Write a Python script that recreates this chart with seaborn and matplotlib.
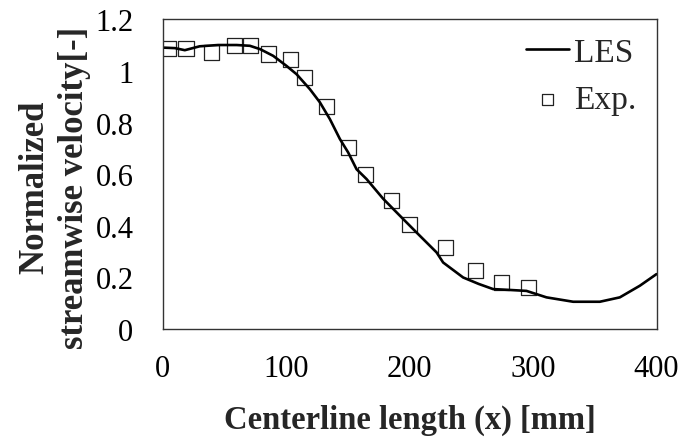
import matplotlib
matplotlib.use("Agg")
import matplotlib.pyplot as plt
import seaborn as sns
import pandas as pd
from matplotlib.ticker import FuncFormatter, MultipleLocator

les_x = [0, 10, 18, 30, 45, 60, 70.7, 79, 89.6, 100.4, 108.5, 119.3, 127.4, 135.5, 143.6,
         150.3, 157.1, 165.2, 178.6, 192.2, 205.7, 221.9, 227.2, 243.4, 256, 267.7, 280,
         294.7, 310.9, 332.5, 354.1, 370.3, 386.5, 400]
les_y = [1.09, 1.088, 1.08, 1.095, 1.10, 1.10, 1.097, 1.084, 1.058, 1.019, 0.987, 0.929,
         0.878, 0.813, 0.736, 0.684, 0.619, 0.581, 0.505, 0.439, 0.374, 0.297, 0.258,
         0.200, 0.175, 0.155, 0.152, 0.148, 0.123, 0.106, 0.106, 0.123, 0.168, 0.213]

exp_x = [4.5, 18.9, 39.7, 58.5, 71.5, 86, 103.6, 115.2, 132.8, 150.3, 164.6, 185.4,
         200.2, 229, 253.7, 274.5, 296.6]
exp_y = [1.087, 1.087, 1.071, 1.097, 1.097, 1.065, 1.043, 0.974, 0.861, 0.703, 0.600,
         0.499, 0.406, 0.316, 0.228, 0.181, 0.161]

les = pd.DataFrame({"x": les_x, "y": les_y})
exp = pd.DataFrame({"x": exp_x, "y": exp_y})

sns.set_style("white")
plt.rcParams["font.family"] = ["Liberation Serif", "DejaVu Serif"]

fig = plt.figure(figsize=(6.86, 4.39), dpi=100)
ax = fig.add_axes([0.237, 0.248, 0.720, 0.706])

sns.lineplot(data=les, x="x", y="y", ax=ax, color="black", linewidth=1.9, label="LES")
sns.scatterplot(data=exp, x="x", y="y", ax=ax, marker="s", s=120, facecolor="none",
                edgecolor="#222222", linewidth=0.9, label="Exp.")

ax.set_xlim(0, 400)
ax.set_ylim(0, 1.2)
ax.xaxis.set_major_locator(MultipleLocator(100))
ax.yaxis.set_major_locator(MultipleLocator(0.2))
ax.yaxis.set_major_formatter(FuncFormatter(lambda v, p: f"{v:g}"))
ax.tick_params(direction="in", length=5, width=1, colors="#333333",
               labelsize=22, labelcolor="black")
ax.tick_params(axis="x", pad=18)
ax.tick_params(axis="y", pad=21)
for s in ax.spines.values():
    s.set_color("#333333")
    s.set_linewidth(1.0)

ax.set_xlabel("Centerline length (x) [mm]", fontsize=23.5, fontweight="bold", labelpad=15)
ax.set_ylabel("Normalized\nstreamwise velocity[-]", fontsize=25, fontweight="bold",
              labelpad=3, linespacing=1.25)
ax.yaxis.label.set_y(0.46)

leg = ax.legend(loc="upper right", frameon=False, fontsize=24, handlelength=1.3,
                handletextpad=0.15, borderaxespad=0.0, labelspacing=0.5,
                markerscale=0.75, borderpad=0.2, bbox_to_anchor=(0.973, 0.962))

fig.savefig("out.png", dpi=100)
